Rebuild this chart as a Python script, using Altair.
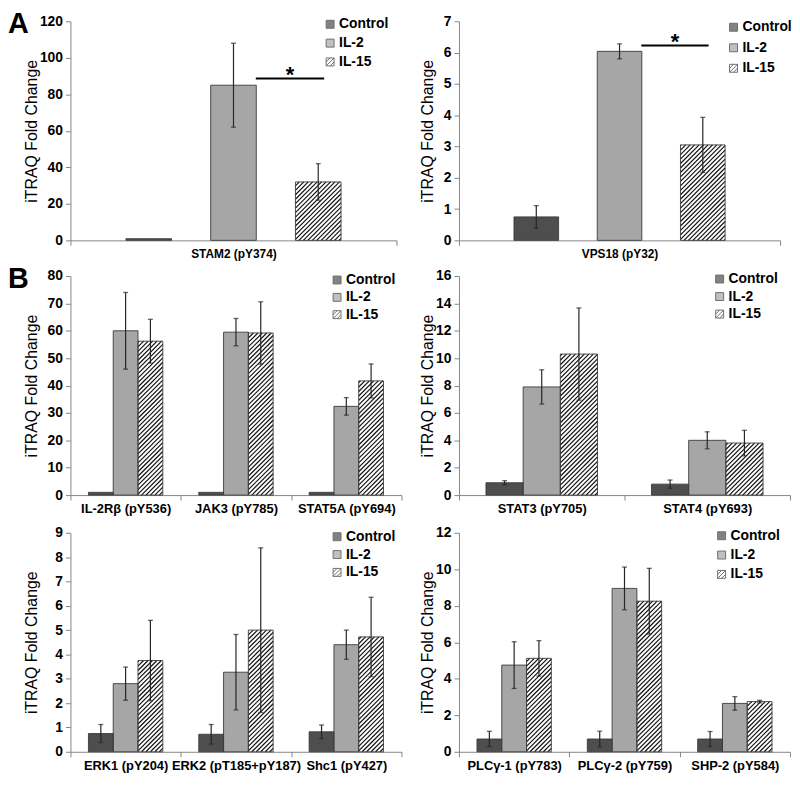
import json
import math
import altair as alt
import pandas as pd

FONT = "Liberation Sans"
series = ["Control", "IL-2", "IL-15"]
fills = ["#4e4e4e", "#a6a6a6", "#ffffff"]
legend_shapes = ["square", "square", "M-1,-1H1V1H-1Z M-1,0L0,-1 M-1,1L1,-1 M0,1L1,0"]

# ---- Panel A (left): STAM2
a1_cats = ["STAM2 (pY374)"]
a1_control = [0.9]
a1_control_err = [0.0]
a1_il2 = [85.0]
a1_il2_err = [23.0]
a1_il15 = [32.0]
a1_il15_err = [10.0]
a1_sig = [88.7]

# ---- Panel A (right): VPS18
a2_cats = ["VPS18 (pY32)"]
a2_control = [0.75]
a2_control_err = [0.36]
a2_il2 = [6.04]
a2_il2_err = [0.24]
a2_il15 = [3.05]
a2_il15_err = [0.88]
a2_sig = [6.23]

# ---- Panel B (left)
b1_cats = ["IL-2Rβ (pY536)", "JAK3 (pY785)", "STAT5A (pY694)"]
b1_control = [1.0, 1.0, 1.0]
b1_control_err = [0.0, 0.0, 0.0]
b1_il2 = [60.0, 59.5, 32.4]
b1_il2_err = [14.0, 5.0, 3.2]
b1_il15 = [56.2, 59.2, 41.7]
b1_il15_err = [8.0, 11.4, 6.2]

# ---- Panel B (right)
b2_cats = ["STAT3 (pY705)", "STAT4 (pY693)"]
b2_control = [0.9, 0.8]
b2_control_err = [0.15, 0.3]
b2_il2 = [7.9, 4.0]
b2_il2_err = [1.25, 0.62]
b2_il15 = [10.3, 3.8]
b2_il15_err = [3.37, 0.93]

# ---- Panel C (left)
c1_cats = ["ERK1 (pY204)", "ERK2 (pT185+pY187)", "Shc1 (pY427)"]
c1_control = [0.75, 0.72, 0.82]
c1_control_err = [0.37, 0.4, 0.28]
c1_il2 = [2.8, 3.27, 4.4]
c1_il2_err = [0.68, 1.55, 0.6]
c1_il15 = [3.75, 5.0, 4.72]
c1_il15_err = [1.65, 3.38, 1.63]

# ---- Panel C (right)
c2_cats = ["PLCγ-1 (pY783)", "PLCγ-2 (pY759)", "SHP-2 (pY584)"]
c2_control = [0.7, 0.7, 0.7]
c2_control_err = [0.42, 0.43, 0.41]
c2_il2 = [4.75, 8.95, 2.65]
c2_il2_err = [1.28, 1.17, 0.37]
c2_il15 = [5.12, 8.25, 2.75]
c2_il15_err = [0.97, 1.8, 0.07]

AXIS_GRAY = "#868686"
ERR_COLOR = "#262626"
YTITLE = "iTRAQ Fold Change"


def panel(cats, means, errs, ymax, ystep, width, height, bar_w, bar_step,
          leg, y_ext, label_size, letter=None, sig=None):
    n = len(cats)
    ppx = width / n
    ppy = height / ymax
    rows = []
    for g, cat in enumerate(cats):
        for i, s in enumerate(series):
            xc = g + 0.5 + (i - 1) * bar_step / ppx
            hw = bar_w / 2 / ppx
            v = means[i][g]
            e = errs[i][g]
            rows.append(dict(cat=cat, series=s, value=v, err=e, xc=xc,
                             x0=xc - hw, x1=xc + hw, lo=v - e, hi=v + e, zero=0.0))
    df = pd.DataFrame(rows)

    # diagonal hatching for IL-15 bars (45 degrees in pixel space)
    pitch = 4.5
    hrows = []
    for r in rows:
        if r["series"] != "IL-15":
            continue
        x0p, x1p, hp = r["x0"] * ppx, r["x1"] * ppx, r["value"] * ppy
        w = x1p - x0p
        for k in range(-int(math.ceil(w / pitch)) - 1, int(math.ceil(hp / pitch)) + 2):
            c = k * pitch + 1.0
            xa = max(x0p, x0p - c)
            xb = min(x1p, x0p + hp - c)
            if xb - xa > 0.3:
                hrows.append(dict(hx=xa / ppx, hy=(xa - x0p + c) / ppy,
                                  hx2=xb / ppx, hy2=(xb - x0p + c) / ppy))
    hdf = pd.DataFrame(hrows)

    xscale = alt.Scale(domain=[0, n], nice=False, zero=False)
    yscale = alt.Scale(domain=[0, ymax], nice=False, zero=True)
    cscale = alt.Scale(domain=series, range=fills)
    sscale = alt.Scale(domain=series, range=legend_shapes)

    label_expr = ("datum.value % 1 == 0.5 ? " + json.dumps(cats, ensure_ascii=False)
                  + "[floor(datum.value)] : ''")
    xaxis = alt.Axis(
        values=[k * 0.5 for k in range(2 * n + 1)], labelExpr=label_expr,
        tickColor={"condition": {"test": "datum.value % 1 != 0", "value": "transparent"},
                   "value": AXIS_GRAY},
        tickSize=5, labelPadding=3, domainColor=AXIS_GRAY, labelFontSize=label_size,
        labelFontWeight="bold", labelColor="#000", labelFont=FONT, labelOverlap=False,
        labelFlush=False, grid=False, title=None)
    yaxis = alt.Axis(
        values=list(range(0, ymax + 1, ystep)), tickSize=5, labelPadding=3,
        minExtent=y_ext, maxExtent=y_ext, titlePadding=0, domainColor=AXIS_GRAY,
        tickColor=AXIS_GRAY, labelFontSize=14, labelFontWeight="bold", labelColor="#000",
        labelFont=FONT, labelFlush=False, titleFont=FONT, titleFontSize=16,
        titleFontWeight="normal", titleColor="#000", grid=False, title=YTITLE)

    lx, ly, rp = leg
    legend = alt.Legend(orient="none", legendX=lx, legendY=ly, title=None, symbolSize=64,
                        labelFontSize=14, labelFontWeight="bold", labelColor="#000",
                        labelFont=FONT, rowPadding=rp, padding=0, labelOffset=2,
                        symbolStrokeColor="#333", symbolStrokeWidth=1, symbolOffset=0)

    def X(f):
        return alt.X(f, scale=xscale, axis=xaxis, title=None)

    def Y(f):
        return alt.Y(f, scale=yscale, axis=yaxis, title=YTITLE)

    base = alt.Chart(df)
    bars = base.mark_rect(strokeWidth=0).encode(
        x=X("x0:Q"), x2="x1:Q", y=Y("value:Q"), y2="zero:Q",
        color=alt.Color("series:N", scale=cscale, legend=legend),
    )
    hatch = alt.Chart(hdf).mark_rule(color="#111111", strokeWidth=1.2).encode(
        x=X("hx:Q"), y=Y("hy:Q"), x2="hx2:Q", y2="hy2:Q",
    )
    outline = base.mark_rect(filled=False, stroke="#3a3a3a", strokeWidth=0.9).encode(
        x=X("x0:Q"), x2="x1:Q", y=Y("value:Q"), y2="zero:Q",
    )
    edf = df[df["err"] > 0]
    err_rule = alt.Chart(edf).mark_rule(color=ERR_COLOR, strokeWidth=1.2).encode(
        x=X("xc:Q"), y=Y("lo:Q"), y2="hi:Q",
    )
    cdf = pd.concat([edf[["xc", "lo"]].rename(columns={"lo": "cy"}),
                     edf[["xc", "hi"]].rename(columns={"hi": "cy"})])
    caps = alt.Chart(cdf).mark_tick(orient="horizontal", size=5, thickness=1.3,
                                    color=ERR_COLOR).encode(
        x=X("xc:Q"), y=Y("cy:Q"),
    )
    leg_layer = base.transform_filter("false").mark_point(
        filled=True, stroke="#333", strokeWidth=1).encode(
        x=X("xc:Q"), y=Y("value:Q"),
        color=alt.Color("series:N", scale=cscale, legend=legend),
        shape=alt.Shape("series:N", scale=sscale, legend=legend),
    )
    # invisible spacer so every panel has the same top extent in the grid
    spacer = alt.Chart(pd.DataFrame({"s": [0]})).mark_rule(opacity=0, strokeWidth=1).encode(
        x=alt.value(0), x2=alt.value(2), y=alt.value(-13))
    layers = [bars, hatch, outline, err_rule, caps, leg_layer, spacer]

    if sig is not None:
        d2 = df[df["series"] == "IL-2"].reset_index(drop=True)
        d15 = df[df["series"] == "IL-15"].reset_index(drop=True)
        sx = d2["x1"][0] - 0.5 / ppx
        sx2 = d15["xc"][0] + 0.13 * bar_w / ppx
        sdf = pd.DataFrame(dict(sx=[sx], sx2=[sx2], sy=sig, sm=[(sx + sx2) / 2]))
        layers.append(alt.Chart(sdf).mark_rule(color="#000", strokeWidth=2).encode(
            x=X("sx:Q"), x2="sx2:Q", y=Y("sy:Q")))
        layers.append(alt.Chart(sdf).mark_text(
            text="*", fontSize=22, fontWeight="bold", font=FONT, baseline="alphabetic",
            dy=4, color="#000").encode(x=X("sm:Q"), y=Y("sy:Q")))

    if letter is not None:
        layers.append(alt.Chart(pd.DataFrame({"t": [letter]})).mark_text(
            align="left", baseline="alphabetic", fontSize=29, fontWeight="bold",
            font=FONT, color="#000").encode(
            x=alt.value(-63), y=alt.value(12), text="t:N"))

    return alt.layer(*layers).properties(width=width, height=height)


H = 221
pA1 = panel(a1_cats, [a1_control, a1_il2, a1_il15], [a1_control_err, a1_il2_err, a1_il15_err],
            120, 20, 329, H, 46, 85.5, (255, -4, 5), 31, 12, letter="A", sig=a1_sig)
pA2 = panel(a2_cats, [a2_control, a2_il2, a2_il15], [a2_control_err, a2_il2_err, a2_il15_err],
            7, 1, 324, H, 45, 84, (270, -1, 6.7), 24, 12, sig=a2_sig)
pB1 = panel(b1_cats, [b1_control, b1_il2, b1_il15], [b1_control_err, b1_il2_err, b1_il15_err],
            80, 10, 334, H, 25, 25, (262, -3, 3.5), 31, 13, letter="B")
pB2 = panel(b2_cats, [b2_control, b2_il2, b2_il15], [b2_control_err, b2_il2_err, b2_il15_err],
            16, 2, 334, H, 37.5, 37.5, (256, -4, 3.7), 24, 13)
pC1 = panel(c1_cats, [c1_control, c1_il2, c1_il15], [c1_control_err, c1_il2_err, c1_il15_err],
            9, 1, 334, H, 25, 25, (262, -3, 4), 31, 13)
pC2 = panel(c2_cats, [c2_control, c2_il2, c2_il15], [c2_control_err, c2_il2_err, c2_il15_err],
            12, 2, 334, H, 25, 25, (258, -4, 5.5), 24, 13)

chart = alt.concat(pA1, pA2, pB1, pB2, pC1, pC2, columns=2,
                   spacing={"row": 4, "column": 17}).resolve_scale(
    x="independent", y="independent", color="independent", shape="independent"
).resolve_legend(color="independent", shape="independent").properties(
    padding={"top": -3, "left": 0, "right": 0, "bottom": 0}
).configure(font=FONT).configure_view(stroke=None)

chart.save("out.html", embed_options={"renderer": "svg", "actions": False})
